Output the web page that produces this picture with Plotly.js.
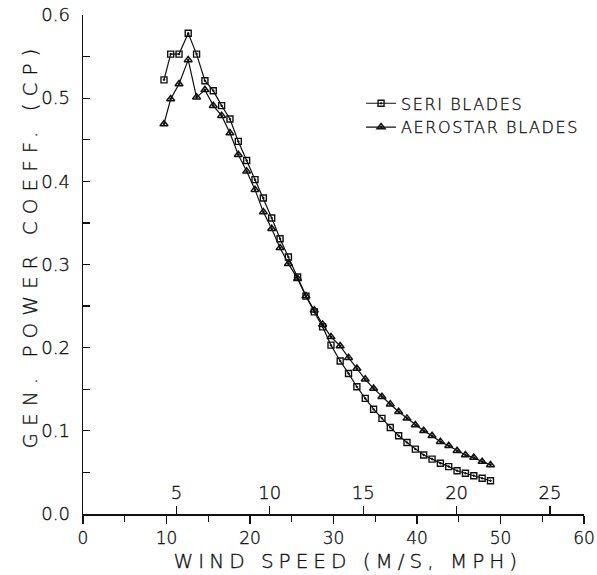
<!DOCTYPE html>
<html>
<head>
<meta charset="utf-8">
<script src="https://cdn.plot.ly/plotly-3.0.1.min.js"></script>
<style>
  html, body { margin: 0; padding: 0; background: #fff; }
  #chart { width: 597px; height: 575px; }
  #chart text { stroke: #111; stroke-width: 0.35px; }
  .annotation[data-index="0"] .annotation-text { letter-spacing: 5px; }
  .annotation[data-index="1"] .annotation-text { letter-spacing: 7px; }
  .legendtext { letter-spacing: 1.6px; }
</style>
</head>
<body>
<div id="chart"></div>
<script>
// Wind speed (mph) of each measured point
const windSpeedMph = [9.7, 10.5, 11.5, 12.6, 13.6, 14.6, 15.6, 16.6, 17.6, 18.6,
  19.6, 20.6, 21.6, 22.6, 23.6, 24.6, 25.7, 26.7, 27.7, 28.7,
  29.7, 30.8, 31.8, 32.8, 33.8, 34.8, 35.8, 36.8, 37.8, 38.8,
  39.8, 40.8, 41.8, 42.8, 43.8, 44.8, 45.8, 46.8, 47.8, 48.8];

// Generator power coefficient, SERI blades
const seriCp = [0.522, 0.553, 0.553, 0.578, 0.553, 0.521, 0.509, 0.491, 0.475, 0.448,
  0.425, 0.402, 0.380, 0.356, 0.331, 0.309, 0.285, 0.262, 0.243, 0.225,
  0.203, 0.184, 0.169, 0.153, 0.139, 0.126, 0.115, 0.104, 0.094, 0.086,
  0.078, 0.071, 0.066, 0.061, 0.057, 0.052, 0.049, 0.046, 0.043, 0.040];

// Generator power coefficient, Aerostar blades
const aerostarCp = [0.469, 0.499, 0.517, 0.546, 0.501, 0.510, 0.491, 0.479, 0.458, 0.432,
  0.412, 0.390, 0.363, 0.343, 0.320, 0.301, 0.283, 0.262, 0.245, 0.228,
  0.213, 0.202, 0.188, 0.175, 0.162, 0.151, 0.141, 0.132, 0.123, 0.115,
  0.107, 0.100, 0.094, 0.087, 0.082, 0.076, 0.071, 0.068, 0.063, 0.059];

const seriesNames = ['SERI BLADES', 'AEROSTAR BLADES'];
const mphTicks = [0, 10, 20, 30, 40, 50, 60];
const msTicks = [5, 10, 15, 20, 25];
const cpTicks = [0.0, 0.1, 0.2, 0.3, 0.4, 0.5, 0.6];
const MPH_PER_MS = 2.237;
const xTitle = 'WIND SPEED (M/S, MPH)';
const yTitle = 'GEN. POWER COEFF. (CP)';

const FONT = 'DejaVu Sans, Arial, sans-serif';
const INK = '#111';
const W = 200; // light weight, like the pen-plotter lettering

const traces = [
  {
    x: windSpeedMph, y: seriCp, name: seriesNames[0],
    type: 'scatter', mode: 'lines+markers',
    line: { color: INK, width: 1.2 },
    marker: { symbol: 'square-open-dot', size: 6, color: INK, line: { color: INK, width: 1.4 } }
  },
  {
    x: windSpeedMph, y: aerostarCp, name: seriesNames[1],
    type: 'scatter', mode: 'lines+markers',
    line: { color: INK, width: 1.2 },
    marker: { symbol: 'triangle-up-open-dot', size: 7, color: INK, line: { color: INK, width: 1.5 } }
  },
  // invisible trace so that the m/s axis is drawn
  {
    x: [msTicks[0]], y: [0], xaxis: 'x2', yaxis: 'y',
    type: 'scatter', mode: 'markers', marker: { opacity: 0 },
    showlegend: false, hoverinfo: 'skip'
  }
];

const layout = {
  width: 597, height: 575,
  margin: { l: 83, r: 13, t: 15, b: 61, pad: 0 },
  paper_bgcolor: '#fff', plot_bgcolor: '#fff',
  font: { family: FONT, size: 18, color: INK, weight: W },
  showlegend: true,
  legend: {
    x: 0.555, xanchor: 'left', y: 0.857, yanchor: 'top',
    bgcolor: 'rgba(0,0,0,0)', borderwidth: 0,
    font: { family: FONT, size: 16, color: INK, weight: W },
    tracegroupgap: 0, itemwidth: 30
  },
  xaxis: {
    range: [0, 60], tickvals: mphTicks, ticktext: mphTicks.map(String),
    showline: true, linecolor: INK, linewidth: 1.5,
    ticks: 'outside', ticklen: 8, tickwidth: 1.3, tickcolor: INK,
    minor: { dtick: 5, ticks: 'outside', ticklen: 6, tickwidth: 1.2, tickcolor: INK },
    showgrid: false, zeroline: false, automargin: false,
    tickfont: { family: FONT, size: 17, color: INK, weight: W }
  },
  xaxis2: {
    overlaying: 'x', side: 'top', anchor: 'free', position: 0,
    range: [0, 60 / MPH_PER_MS], tickvals: msTicks, ticktext: msTicks.map(String),
    showline: false, ticks: 'outside', ticklen: 8, tickwidth: 1.3, tickcolor: INK,
    showgrid: false, zeroline: false, automargin: false,
    tickfont: { family: FONT, size: 18, color: INK, weight: W }
  },
  yaxis: {
    range: [0, 0.6], tickvals: cpTicks, ticktext: cpTicks.map(v => v.toFixed(1)),
    showline: true, linecolor: INK, linewidth: 1.5,
    ticks: 'inside', ticklen: 7, tickwidth: 1.3, tickcolor: INK,
    minor: { dtick: 0.05, ticks: 'inside', ticklen: 7, tickwidth: 1.2, tickcolor: INK },
    showgrid: false, zeroline: false, automargin: false,
    ticklabelstandoff: 8,
    tickfont: { family: FONT, size: 18, color: INK, weight: W }
  },
  annotations: [
    {
      text: xTitle, xref: 'paper', yref: 'paper',
      x: 0.528, y: -0.094, xanchor: 'center', yanchor: 'middle',
      showarrow: false, font: { family: FONT, size: 20, color: INK, weight: W }
    },
    {
      text: yTitle, xref: 'paper', yref: 'paper', textangle: -90,
      x: -0.106, y: 0.54, xanchor: 'center', yanchor: 'middle',
      showarrow: false, font: { family: FONT, size: 20, color: INK, weight: W }
    }
  ]
};

Plotly.newPlot('chart', traces, layout, { staticPlot: true, displayModeBar: false });
</script>
</body>
</html>
